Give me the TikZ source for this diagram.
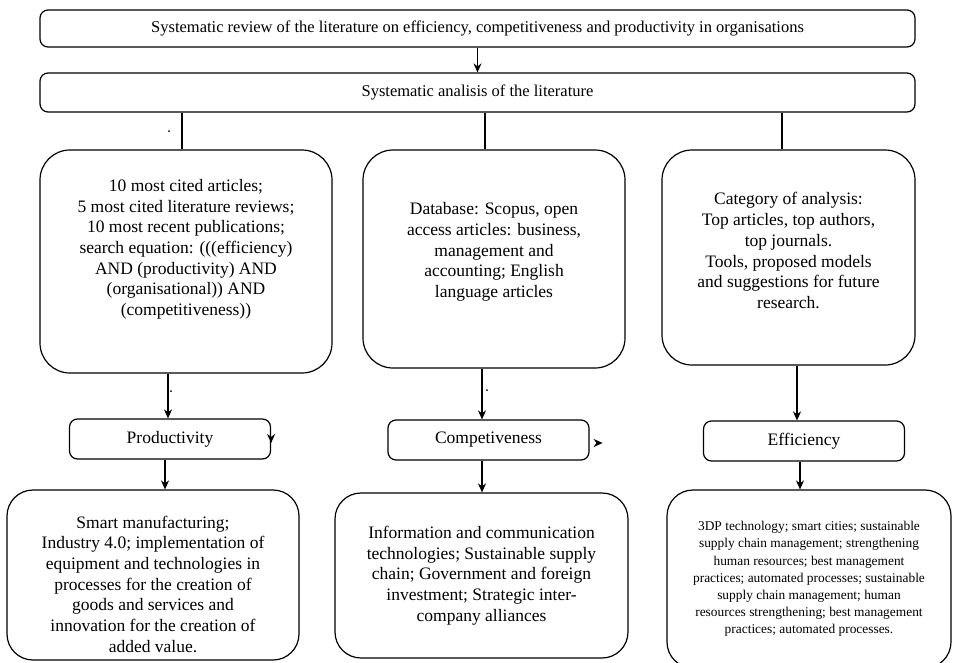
\documentclass[tikz,border=0pt]{standalone}
\usepackage{fontspec}
\setmainfont{Liberation Serif}
\usetikzlibrary{positioning,arrows.meta}

\begin{document}
\begin{tikzpicture}[x=1pt, y=1pt, on grid, >={Stealth[length=9pt,width=8pt]},
    box/.style={draw, line width=1.2pt, rounded corners=8pt, align=center, inner sep=0pt, font=\fontsize{17.5}{20.7}\selectfont},
    wide/.style={box, minimum width=875pt, font=\fontsize{16.5}{20}\selectfont},
    tall/.style={box, rounded corners=30pt},
    topic/.style={box, minimum width=201pt, minimum height=40pt},
    result/.style={box, rounded corners=26pt},
    link/.style={line width=1.5pt}]
        \useasboundingbox (0,0) rectangle (954,-662);

        \node[wide, minimum height=37pt]  (rev)  at (477.5,-28.5)  {Systematic review of the literature on efficiency, competitiveness and productivity in organisations};
        \node[wide, minimum height=39pt]  (ana)  [below=64pt of rev] {Systematic analisis of the literature};

        \node[tall, minimum width=292pt, minimum height=223pt, text depth=28pt] (crit) [below left=169pt and 291.5pt of ana]
            {10 most cited articles;\\5 most cited literature reviews;\\10 most recent publications;\\search equation: (((efficiency)\\AND (productivity) AND\\(organisational)) AND\\(competitiveness))};
        \node[tall, minimum width=262pt, minimum height=218pt, text depth=18pt] (data) [below right=166.5pt and 16.5pt of ana]
            {Database: Scopus, open\\access articles: business,\\management and\\accounting; English\\language articles};
        \node[tall, minimum width=253pt, minimum height=215pt, text depth=14pt] (cat)  [below right=165pt and 311pt of ana]
            {Category of analysis:\\Top articles, top authors,\\top journals.\\Tools, proposed models\\and suggestions for future\\research.};

        \node[topic] (prod) [below left=177.5pt and 16pt of crit]  {Productivity};
        \node[topic] (comp) [below left=181pt and 5.5pt of data]   {Competiveness};
        \node[topic] (eff)  [below right=183.5pt and 15.5pt of cat] {Efficiency};

        \node[result, minimum width=292pt, minimum height=170pt, text height=155pt] (smart) [below left=136pt and 17pt of prod]
            {Smart manufacturing;\\Industry 4.0; implementation of\\equipment and technologies in\\processes for the creation of\\goods and services and\\innovation for the creation of\\added value.};
        \node[result, minimum width=293pt, minimum height=165pt] (ict)   [below left=135.5pt and 7pt of comp]
            {Information and communication\\technologies; Sustainable supply\\chain; Government and foreign\\investment; Strategic inter-\\company alliances};
        \node[result, minimum width=284pt, minimum height=178pt, font=\fontsize{13.4}{17.2}\selectfont] (tech) [below right=138pt and 5pt of eff]
            {3DP technology; smart cities; sustainable\\supply chain management; strengthening\\human resources; best management\\practices; automated processes; sustainable\\supply chain management; human\\resources strengthening; best management\\practices; automated processes.};

        % connectors
        \draw[->, link] (rev.south) -- (ana.north);
        \draw[link] ([xshift=-4pt]crit.north) -- ([xshift=-4pt]crit.north |- ana.south);
        \draw[link] ([xshift=-9pt]data.north) -- ([xshift=-9pt]data.north |- ana.south);
        \draw[link] ([xshift=-6.5pt]cat.north) -- ([xshift=-6.5pt]cat.north |- ana.south);
        \draw[->, link] ([xshift=-2pt]prod.north |- crit.south) -- ([xshift=-2pt]prod.north);
        \draw[->, link] ([xshift=-6.5pt]comp.north |- data.south) -- ([xshift=-6.5pt]comp.north);
        \draw[->, link] ([xshift=-7pt]eff.north |- cat.south) -- ([xshift=-7pt]eff.north);
        \draw[->, link] ([xshift=-5pt]prod.south) -- ([xshift=-5pt]prod.south |- smart.north);
        \draw[->, link] ([xshift=-6.5pt]comp.south) -- ([xshift=-6.5pt]comp.south |- ict.north);
        \draw[->, link] ([xshift=-4pt]eff.south) -- ([xshift=-4pt]eff.south |- tech.north);

        % stray marks
        \coordinate (prodmark) at ([yshift=-4pt]prod.east);
        \coordinate (compmark) at ([xshift=13pt,yshift=-3pt]comp.east);
        \draw[->, link] ([yshift=3pt]prodmark) -- (prodmark);
        \draw[->, link] ([xshift=-3pt]compmark) -- (compmark);
        \fill (169,-131) circle (1pt);
        \fill (171,-391) circle (1pt);
        \fill (487,-390) circle (1pt);
\end{tikzpicture}
\end{document}
